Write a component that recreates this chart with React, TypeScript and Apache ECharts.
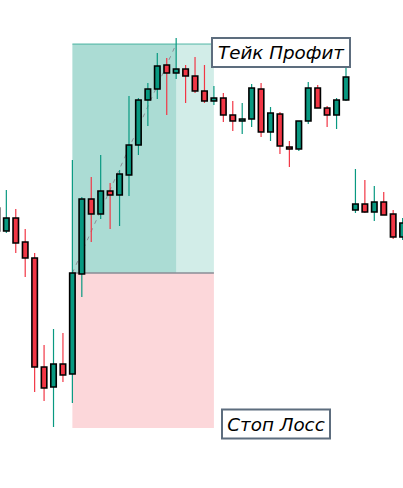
import React, { useEffect, useRef } from "react";
import * as echarts from "echarts";

// Candle index (x) and OHLC values (price units)
const candleIdx = [0,1,2,3,4,5,6,7,8,9,10,11,12,13,14,15,16,17,18,19,20,21,22,23,24,25,26,27,28,29,30,31,32,33,34,35,36,37,38,39,40,41,42,43];
const opens  = [280,257,270,246,230,121,101,124,114,214,289,274,297,293,313,343,388,399,423,415,419,412,397,387,390,373,367,369,399,356,374,341,339,367,400,380,373,388,278,284,276,286,274,251];
const closes = [257,270,245,230,121,100,124,113,215,289,274,297,293,314,343,388,399,422,415,419,412,397,387,390,373,367,369,400,356,375,342,339,367,400,380,373,388,411,284,276,286,273,251,265];
const highs  = [281,298,279,259,235,143,159,155,328,291,311,333,305,318,392,390,405,435,430,450,423,431,423,402,395,387,385,404,405,381,376,347,367,406,403,382,390,428,319,308,302,296,278,270];
const lows   = [255,255,235,211,96,87,61,106,85,191,246,269,259,262,292,333,362,389,373,409,385,395,385,383,366,357,354,361,351,347,334,321,337,364,380,361,359,387,275,275,267,273,249,248];

// Long position tool (indices and prices)
const positionStart = 8;
const targetHitIdx = 19;
const positionEnd = 23;
const entryPrice = 215;
const targetPrice = 444;
const stopPrice = 60;

const takeProfitLabel = "Тейк Профит";
const stopLossLabel = "Стоп Лосс";

const GREEN = "#089981";
const RED = "#f23645";

export default function App() {
  const ref = useRef<HTMLDivElement>(null);
  useEffect(() => {
    if (!ref.current) return;
    const chart = echarts.init(ref.current, null, { renderer: "svg" });
    const candleData = candleIdx.map((i, k) => [i, opens[k], closes[k], lows[k], highs[k]]);
    const spacing = 403 / 42.713;
    const xMin = 3.1 / spacing;
    const xMax = xMin + 403 / spacing;
    chart.setOption({
      animation: false,
      grid: { left: 0, right: 0, top: 0, bottom: 0 },
      xAxis: { type: "value", min: xMin, max: xMax, show: false },
      yAxis: { type: "value", min: 0, max: 488, show: false },
      series: [
        {
          type: "custom",
          silent: true,
          data: [[positionStart, targetHitIdx, positionEnd, entryPrice, targetPrice, stopPrice]],
          encode: { x: [0, 1, 2], y: [3, 4, 5] },
          renderItem: (params: any, api: any) => {
            const s = api.value(0), h = api.value(1), e = api.value(2);
            const en = api.value(3), tp = api.value(4), sl = api.value(5);
            const pS = api.coord([s, tp]);
            const pH = api.coord([h, en]);
            const pE = api.coord([e, sl]);
            const pEn = api.coord([s, en]);
            return {
              type: "group",
              children: [
                { type: "rect", shape: { x: pS[0], y: pS[1], width: pH[0] - pS[0], height: pH[1] - pS[1] }, style: { fill: "rgba(8,153,129,0.34)" } },
                { type: "rect", shape: { x: pH[0], y: pS[1], width: pE[0] - pH[0], height: pH[1] - pS[1] }, style: { fill: "rgba(8,153,129,0.18)" } },
                { type: "rect", shape: { x: pS[0], y: pEn[1], width: pE[0] - pS[0], height: pE[1] - pEn[1] }, style: { fill: "rgba(242,54,69,0.2)" } },
                { type: "line", shape: { x1: pS[0], y1: pS[1], x2: pE[0], y2: pS[1] }, style: { stroke: "rgba(8,153,129,0.45)", lineWidth: 1.5 } },
                { type: "line", shape: { x1: pS[0], y1: pEn[1], x2: pE[0], y2: pEn[1] }, style: { stroke: "#8a8d96", lineWidth: 1.5 } },
                { type: "line", shape: { x1: pS[0], y1: pEn[1], x2: pH[0], y2: pS[1] }, style: { stroke: "#8a8d96", lineWidth: 1, lineDash: [4, 5] } },
              ],
            };
          },
          z: 1,
        },
        {
          type: "custom",
          silent: true,
          data: candleData,
          encode: { x: 0, y: [1, 2, 3, 4] },
          renderItem: (params: any, api: any) => {
            const x = api.value(0);
            const o = api.value(1), c = api.value(2), l = api.value(3), hi = api.value(4);
            const pO = api.coord([x, o]);
            const pC = api.coord([x, c]);
            const pL = api.coord([x, l]);
            const pHi = api.coord([x, hi]);
            const unit = api.size([1, 0])[0];
            const w = unit * 0.58;
            const color = c >= o ? GREEN : RED;
            const top = Math.min(pO[1], pC[1]);
            const hgt = Math.max(Math.abs(pO[1] - pC[1]), 1.5);
            return {
              type: "group",
              children: [
                { type: "line", shape: { x1: pHi[0], y1: pHi[1], x2: pL[0], y2: pL[1] }, style: { stroke: color, lineWidth: 1.2 } },
                { type: "rect", shape: { x: pO[0] - w / 2, y: top, width: w, height: hgt }, style: { fill: color, stroke: "#000", lineWidth: 1.6 } },
              ],
            };
          },
          z: 2,
        },
      ],
      graphic: [
        { type: "rect", z: 10, shape: { x: 212, y: 38, width: 138, height: 29 }, style: { fill: "#fff", stroke: "#5d6d7e", lineWidth: 2 } },
        { type: "text", z: 11, x: 281, y: 52.5, style: { text: takeProfitLabel, align: "center", verticalAlign: "middle", font: 'italic 18.3px "DejaVu Sans"', fill: "#000" } },
        { type: "rect", z: 10, shape: { x: 222, y: 409.5, width: 108, height: 29 }, style: { fill: "#fff", stroke: "#5d6d7e", lineWidth: 2 } },
        { type: "text", z: 11, x: 276, y: 424, style: { text: stopLossLabel, align: "center", verticalAlign: "middle", font: 'italic 18.3px "DejaVu Sans"', fill: "#000" } },
      ],
    });
    return () => chart.dispose();
  }, []);
  return <div ref={ref} style={{ position: "absolute", left: 0, top: 0, width: 403, height: 488 }} />;
}
